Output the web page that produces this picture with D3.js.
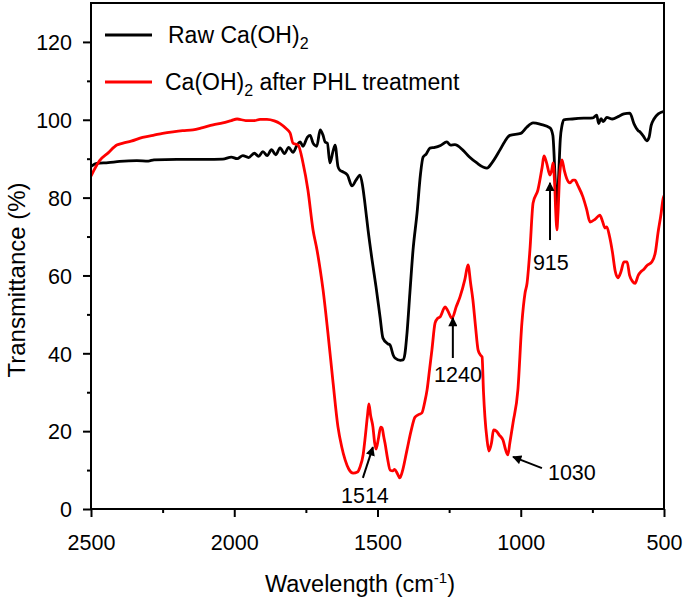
<!DOCTYPE html>
<html><head><meta charset="utf-8">
<script src="https://cdn.jsdelivr.net/npm/d3@7"></script>
<style>
body{margin:0;background:#fff;}
text{font-family:"Liberation Sans",Arial,sans-serif;fill:#000;}
</style></head>
<body><svg id="c" width="685" height="603"></svg>
<script>
// ---- data ----
const xTicks = [2500, 2000, 1500, 1000, 500];
const yTicks = [0, 20, 40, 60, 80, 100, 120];
const seriesNames = ["Raw Ca(OH)2", "Ca(OH)2 after PHL treatment"];
const rawWavenumber = [2500,2480,2440,2400,2340,2300,2280,2200,2100,2040,2010,1990,1970,1950,1930,1915,1900,1885,1870,1855,1840,1825,1810,1795,1780,1770,1760,1745,1735,1725,1712,1700,1690,1683,1675,1666,1655,1648,1638,1631,1620,1605,1589,1575,1561,1552,1544,1533,1519,1505,1491,1481,1465,1456,1445,1439,1420,1411,1404,1397,1387,1376,1362,1350,1341,1330,1317,1300,1280,1258,1245,1230,1202,1180,1153,1130,1118,1100,1073,1055,1038,1000,980,957,930,898,888,880,874,868,862,856,850,820,780,748,735,728,720,712,700,680,660,640,619,605,590,584,572,560,552,545,535,520,507,500];
const rawT = [88.0,88.8,89.0,89.3,89.5,89.4,89.7,89.8,89.8,89.9,90.4,90.0,90.8,90.3,91.4,90.6,91.8,90.8,92.3,91.0,92.8,91.3,92.9,91.6,93.6,94.3,93.2,95.5,96.0,94.0,93.2,97.4,96.0,94.3,94.0,88.9,92.0,93.5,88.0,87.0,86.6,85.8,83.0,84.5,85.8,83.0,78.6,71.7,64.0,57.0,49.3,43.9,42.5,42.1,39.5,38.8,38.2,38.3,40.0,45.2,55.5,66.5,76.0,86.0,90.4,91.2,92.7,92.9,93.4,94.3,93.5,93.6,92.2,90.5,88.9,87.8,87.6,89.0,92.2,94.5,96.0,96.5,98.0,99.2,98.8,97.9,96.0,85.0,76.0,85.0,95.0,98.5,100.0,100.2,100.4,100.5,101.2,99.0,100.3,99.5,100.6,100.2,100.8,101.5,101.7,99.0,97.2,96.9,95.8,94.6,95.5,98.5,100.2,101.5,102.0,102.2];
const phlWavenumber = [2500,2490,2470,2440,2410,2388,2360,2320,2283,2250,2214,2180,2144,2110,2074,2040,2010,1990,1960,1930,1910,1886,1860,1840,1820,1805,1795,1777,1760,1743,1725,1711,1700,1690,1673,1655,1638,1625,1613,1600,1585,1570,1561,1550,1544,1535,1530,1524,1516,1510,1505,1497,1489,1484,1478,1474,1465,1456,1447,1440,1430,1422,1412,1397,1383,1369,1355,1345,1335,1327,1318,1310,1299,1290,1282,1264,1255,1240,1225,1212,1195,1184,1175,1167,1158,1149,1140,1135,1130,1125,1118,1111,1102,1095,1085,1075,1062,1052,1045,1038,1027,1010,996,985,978,968,957,940,925,919,910,898,892,887,882,877,874,870,864,856,848,840,828,818,811,800,783,770,758,740,724,715,706,700,690,680,670,661,650,640,629,620,610,601,590,580,573,560,542,530,521,510,504,500];
const phlT = [85.5,87.0,89.5,91.5,93.5,94.0,94.5,95.5,96.0,96.5,96.9,97.2,97.4,98.0,98.7,99.2,99.8,100.2,99.8,99.8,100.1,100.1,99.7,99.0,97.8,96.6,94.0,93.5,88.9,82.0,71.7,66.5,61.5,56.3,45.2,32.4,21.1,16.0,12.6,10.2,9.2,9.5,10.8,14.0,17.7,24.0,27.0,24.0,21.1,17.0,15.4,18.0,21.0,20.8,18.5,17.0,13.0,10.0,9.8,10.2,9.0,8.0,10.0,15.2,20.0,23.6,24.3,24.7,27.5,30.6,36.0,40.9,47.8,49.0,49.3,51.9,51.0,49.0,52.0,54.5,59.0,62.7,58.0,53.7,47.0,40.9,39.5,39.1,30.0,23.6,18.0,14.9,17.0,20.3,20.0,19.0,17.7,15.0,13.9,17.0,22.1,30.6,47.8,55.5,58.0,66.5,78.6,82.0,88.0,90.7,89.0,85.8,87.0,88.9,84.0,75.0,71.7,76.0,86.0,89.7,87.0,85.0,83.8,84.5,84.5,83.0,80.2,77.0,73.7,74.5,75.5,74.0,72.2,72.5,70.0,66.0,61.0,59.4,61.0,63.5,63.5,60.0,58.5,58.0,60.0,61.0,61.4,62.5,63.5,66.0,70.9,76.0,79.4,80.5];
// annotations: label, arrow tail (w,T), arrow head (w,T), label anchor (w,T)
const annLabels = ["915", "1240", "1030", "1514"];
const annTail = [[898, 69.1], [1237, 38.8], [926, 10.5], [1551, 8.0]];
const annHead = [[898, 83.8], [1237, 49.1], [1027, 13.4], [1516, 15.9]];
const annText = [[895, 61.4], [1219, 32.6], [905, 7.5], [1544, 1.5]];

// ---- layout ----
const W = 685, H = 603;
const m = {left: 91, top: 3, right: 21, bottom: 94};
const svg = d3.select("#c");
const x = d3.scaleLinear().domain([2500, 500]).range([m.left, W - m.right]);
const y = d3.scaleLinear().domain([0, 130]).range([H - m.bottom, m.top]);

// defs: arrow marker
svg.append("defs").append("marker")
  .attr("id", "ah").attr("viewBox", "0 0 10 10").attr("refX", 9).attr("refY", 5)
  .attr("markerWidth", 5).attr("markerHeight", 4.6).attr("orient", "auto")
  .attr("markerUnits", "strokeWidth")
  .append("path").attr("d", "M0,0 L10,5 L0,10 Z").attr("fill", "#000");

// curves
const line = d3.line().x(d => x(d[0])).y(d => y(d[1])).curve(d3.curveMonotoneX);
const rawData = rawWavenumber.map((w, i) => [w, rawT[i]]);
const phlData = phlWavenumber.map((w, i) => [w, phlT[i]]);
svg.append("clipPath").attr("id", "clp").append("rect")
  .attr("x", m.left).attr("y", m.top).attr("width", W - m.left - m.right).attr("height", H - m.top - m.bottom);
const g = svg.append("g").attr("clip-path", "url(#clp)");
g.append("path").datum(rawData).attr("d", line).attr("fill", "none")
  .attr("stroke", "#000").attr("stroke-width", 2.8).attr("stroke-linejoin", "round");
g.append("path").datum(phlData).attr("d", line).attr("fill", "none")
  .attr("stroke", "#ff0000").attr("stroke-width", 2.8).attr("stroke-linejoin", "round");

// frame
svg.append("rect").attr("x", m.left).attr("y", m.top)
  .attr("width", W - m.left - m.right).attr("height", H - m.top - m.bottom)
  .attr("fill", "none").attr("stroke", "#000").attr("stroke-width", 2);

// axes
const xMinor = d3.range(2250, 500, -500);
const yMinor = d3.range(10, 130, 20);
const xAx = svg.append("g").attr("transform", `translate(0,${H - m.bottom})`)
  .call(d3.axisBottom(x).tickValues(xTicks).tickSize(8).tickPadding(18).tickFormat(d3.format("d")));
const xAxMin = svg.append("g").attr("transform", `translate(0,${H - m.bottom})`)
  .call(d3.axisBottom(x).tickValues(xMinor).tickSize(4).tickFormat(""));
const yAx = svg.append("g").attr("transform", `translate(${m.left},0)`)
  .call(d3.axisLeft(y).tickValues(yTicks).tickSize(8).tickPadding(11));
const yAxMin = svg.append("g").attr("transform", `translate(${m.left},0)`)
  .call(d3.axisLeft(y).tickValues(yMinor).tickSize(4).tickFormat(""));
[xAx, xAxMin, yAx, yAxMin].forEach(a => {
  a.select(".domain").remove();
  a.selectAll("line").attr("stroke", "#000").attr("stroke-width", 2);
  a.selectAll("text").attr("font-size", 21.5).attr("font-family", "Liberation Sans, Arial, sans-serif").attr("fill", "#000");
});
yAx.selectAll("text").attr("dy", "0.36em");

// axis titles
const xt = svg.append("text").attr("x", 360).attr("y", 592).attr("text-anchor", "middle").attr("font-size", 23.5);
xt.append("tspan").text("Wavelength (cm");
xt.append("tspan").attr("font-size", 15).attr("dy", -9).text("-1");
xt.append("tspan").attr("dy", 9).text(")");
svg.append("text").attr("transform", "translate(25,280) rotate(-90)")
  .attr("text-anchor", "middle").attr("font-size", 24).text("Transmittance (%)");

// legend
const legColors = ["#000", "#ff0000"];
const legY = [35, 82];
seriesNames.forEach((name, i) => {
  svg.append("line").attr("x1", 105).attr("x2", 152).attr("y1", legY[i]).attr("y2", legY[i])
    .attr("stroke", legColors[i]).attr("stroke-width", 2.8);
  const t = svg.append("text").attr("x", i === 0 ? 168 : 165).attr("y", legY[i] + 8).attr("font-size", 23);
  const parts = name.split("2");
  t.append("tspan").text(parts[0]);
  t.append("tspan").attr("font-size", 16).attr("dy", 6).text("2");
  if (parts[1]) t.append("tspan").attr("dy", -6).text(parts[1]);
});

// annotations
annLabels.forEach((lab, i) => {
  svg.append("line")
    .attr("x1", x(annTail[i][0])).attr("y1", y(annTail[i][1]))
    .attr("x2", x(annHead[i][0])).attr("y2", y(annHead[i][1]))
    .attr("stroke", "#000").attr("stroke-width", 2).attr("marker-end", "url(#ah)");
  svg.append("text").attr("x", x(annText[i][0])).attr("y", y(annText[i][1]))
    .attr("text-anchor", lab === "1030" ? "start" : "middle").attr("font-size", 21.5).text(lab);
});
</script></body></html>
